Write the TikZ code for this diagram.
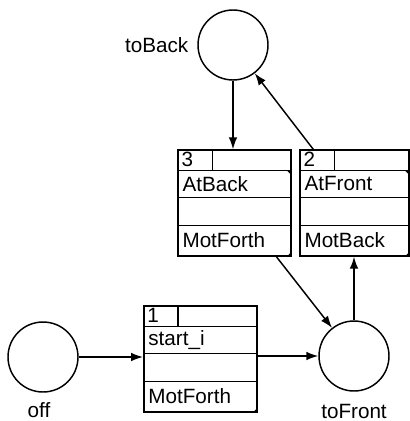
\documentclass[tikz,border=0pt]{standalone}
\usepackage{fontspec}
\setmainfont{Liberation Sans}
\usetikzlibrary{arrows.meta}
\usetikzlibrary{positioning,calc}

% rows of a transition box: header, guard, (empty), action
\newcommand{\transbox}[4]{%
  \draw[thin line] ($(#1.north west)+(0,21)$) -- ($(#1.north east)+(0,21)$)
    ($(#1.north west)+(0,48)$) -- ($(#1.north east)+(0,48)$)
    ($(#1.north west)+(0,76)$) -- ($(#1.north east)+(0,76)$)
    ($(#1.north west)+(35,0)$) -- ($(#1.north west)+(35,21)$);
  \node[cell] at ($(#1.north west)+(4,10.5)$) {#2};
  \node[cell] at ($(#1.north west)+(5,34.5)$) {#3};
  \node[cell] at ($(#1.north west)+(5,91)$) {#4};
  \fill (#1.south east) -- ++(-5,0) -- ++(5,-5) -- cycle;
}

\begin{document}
\begin{tikzpicture}[x=0.75pt, y=-0.75pt, >={Latex[length=9pt,width=6.5pt]}, font=\fontsize{15.5}{17}\selectfont]
\tikzstyle{place}=[circle, draw, line width=1.1pt, minimum size=52.5pt, inner sep=0pt]
\tikzstyle{trans}=[rectangle, draw, line width=1.1pt, minimum width=84.75pt, minimum height=79.5pt, inner sep=0pt]
\tikzstyle{thin line}=[line width=1.1pt]
\tikzstyle{cell}=[anchor=west, inner sep=0pt]
\tikzstyle{arc}=[->, line width=1.1pt]
\useasboundingbox (0,0) rectangle (410,421);

\node[place] (toback) at (233,45) {};
\node[place] (off) at (43,357) {};
\node[place] (tofront) at (354,356) {};
\node[anchor=east] (lback) at (193,45) {toBack};
\node (loff) at (39,410) {off};
\node (lfront) at (354,411) {toFront};

\node[trans] (t3) at (234.5,203) {};
\node[trans, minimum width=81.75pt] (t2) at (354.5,203) {};
\node[trans] (t1) at (200.3,359) {};

\transbox{t3}{3}{AtBack}{MotForth}
\transbox{t2}{2}{AtFront}{MotBack}
\transbox{t1}{1}{start\_i}{MotForth}
\fill ($(t3.north east)+(0,21)$) -- ++(-5,0) -- ++(5,5) -- cycle;
\fill ($(t2.north east)+(0,21)$) -- ++(-5,0) -- ++(5,5) -- cycle;

\path[arc]
(toback) edge (toback |- t3.north)
(t2) edge (toback)
(t3) edge (tofront)
(tofront) edge (tofront |- t2.south)
(off) edge (off -| t1.west)
(t1.east |- tofront) edge (tofront)
;
\end{tikzpicture}
\end{document}
